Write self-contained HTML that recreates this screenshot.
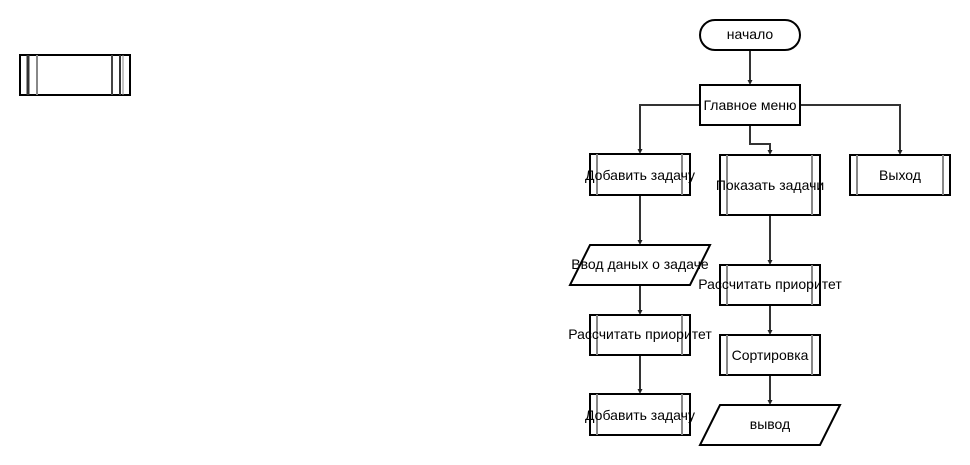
<!DOCTYPE html>
<html><head><meta charset="utf-8"><style>
html,body{margin:0;padding:0;background:#fff;}
svg{display:block;}
text{font-family:"Liberation Sans",Arial,sans-serif;font-size:14px;fill:#000;}
</style></head><body>
<svg width="970" height="465" viewBox="0 0 970 465" xmlns="http://www.w3.org/2000/svg">
<rect x="0" y="0" width="970" height="465" fill="#fff"/>

<!-- small shape top-left -->
<rect x="20" y="55" width="110" height="40" fill="#fff" stroke="#000" stroke-width="2"/>
<line x1="28" y1="55" x2="28" y2="95" stroke="#333" stroke-width="3"/>
<line x1="37" y1="55" x2="37" y2="95" stroke="#888" stroke-width="2"/>
<line x1="112" y1="55" x2="112" y2="95" stroke="#444" stroke-width="2"/>
<line x1="120" y1="55" x2="120" y2="95" stroke="#333" stroke-width="2"/>
<line x1="123" y1="55" x2="123" y2="95" stroke="#888" stroke-width="1"/>

<!-- connectors -->
<g stroke="#333" stroke-width="2" fill="none">
<line x1="750" y1="50" x2="750" y2="81"/>
<polyline points="700,105 640,105 640,150"/>
<polyline points="750,125 750,144 770,144 770,151"/>
<polyline points="800,105 900,105 900,151"/>
<line x1="640" y1="195" x2="640" y2="241"/>
<line x1="640" y1="285" x2="640" y2="311"/>
<line x1="640" y1="355" x2="640" y2="390"/>
<line x1="770" y1="215" x2="770" y2="261"/>
<line x1="770" y1="305" x2="770" y2="331"/>
<line x1="770" y1="375" x2="770" y2="401"/>
</g>
<g fill="#222">
<polygon points="747.5,80 752.5,80 750,85"/>
<polygon points="637.5,149 642.5,149 640,154"/>
<polygon points="767.5,150 772.5,150 770,155"/>
<polygon points="897.5,150 902.5,150 900,155"/>
<polygon points="637.5,240 642.5,240 640,245"/>
<polygon points="637.5,310 642.5,310 640,315"/>
<polygon points="637.5,389 642.5,389 640,394"/>
<polygon points="767.5,260 772.5,260 770,265"/>
<polygon points="767.5,330 772.5,330 770,335"/>
<polygon points="767.5,400 772.5,400 770,405"/>
</g>

<!-- start -->
<rect x="700" y="20" width="100" height="30" rx="15" ry="15" fill="#fff" stroke="#000" stroke-width="2"/>
<text x="750" y="39" text-anchor="middle">начало</text>

<!-- main menu -->
<rect x="700" y="85" width="100" height="40" fill="#fff" stroke="#000" stroke-width="2"/>
<text x="750" y="110" text-anchor="middle">Главное меню</text>

<!-- Добавить задачу (1) -->
<rect x="590" y="154" width="100" height="41" fill="#fff" stroke="#000" stroke-width="2"/>
<line x1="597" y1="154" x2="597" y2="195" stroke="#888" stroke-width="2"/>
<line x1="682" y1="154" x2="682" y2="195" stroke="#888" stroke-width="2"/>
<text x="640" y="180" text-anchor="middle">Добавить задачу</text>

<!-- Показать задачи -->
<rect x="720" y="155" width="100" height="60" fill="#fff" stroke="#000" stroke-width="2"/>
<line x1="727" y1="155" x2="727" y2="215" stroke="#888" stroke-width="2"/>
<line x1="812" y1="155" x2="812" y2="215" stroke="#888" stroke-width="2"/>
<text x="770" y="190" text-anchor="middle">Показать задачи</text>

<!-- Выход -->
<rect x="850" y="155" width="100" height="40" fill="#fff" stroke="#000" stroke-width="2"/>
<line x1="857" y1="155" x2="857" y2="195" stroke="#888" stroke-width="2"/>
<line x1="943" y1="155" x2="943" y2="195" stroke="#888" stroke-width="2"/>
<text x="900" y="180" text-anchor="middle">Выход</text>

<!-- Ввод даных о задаче -->
<polygon points="590,245 710,245 690,285 570,285" fill="#fff" stroke="#000" stroke-width="2"/>
<text x="640" y="269" text-anchor="middle">Ввод даных о задаче</text>

<!-- Рассчитать приоритет (left) -->
<rect x="590" y="315" width="100" height="40" fill="#fff" stroke="#000" stroke-width="2"/>
<line x1="597" y1="315" x2="597" y2="355" stroke="#888" stroke-width="2"/>
<line x1="682" y1="315" x2="682" y2="355" stroke="#888" stroke-width="2"/>
<text x="640" y="339" text-anchor="middle">Рассчитать приоритет</text>

<!-- Добавить задачу (2) -->
<rect x="590" y="394" width="100" height="41" fill="#fff" stroke="#000" stroke-width="2"/>
<line x1="597" y1="394" x2="597" y2="435" stroke="#888" stroke-width="2"/>
<line x1="682" y1="394" x2="682" y2="435" stroke="#888" stroke-width="2"/>
<text x="640" y="420" text-anchor="middle">Добавить задачу</text>

<!-- Рассчитать приоритет (right) -->
<rect x="720" y="265" width="100" height="40" fill="#fff" stroke="#000" stroke-width="2"/>
<line x1="727" y1="265" x2="727" y2="305" stroke="#888" stroke-width="2"/>
<line x1="812" y1="265" x2="812" y2="305" stroke="#888" stroke-width="2"/>
<text x="770" y="289" text-anchor="middle">Рассчитать приоритет</text>

<!-- Сортировка -->
<rect x="720" y="335" width="100" height="40" fill="#fff" stroke="#000" stroke-width="2"/>
<line x1="727" y1="335" x2="727" y2="375" stroke="#888" stroke-width="2"/>
<line x1="812" y1="335" x2="812" y2="375" stroke="#888" stroke-width="2"/>
<text x="770" y="360" text-anchor="middle">Сортировка</text>

<!-- вывод -->
<polygon points="720,405 840,405 820,445 700,445" fill="#fff" stroke="#000" stroke-width="2"/>
<text x="770" y="429" text-anchor="middle">вывод</text>
</svg>
</body></html>
